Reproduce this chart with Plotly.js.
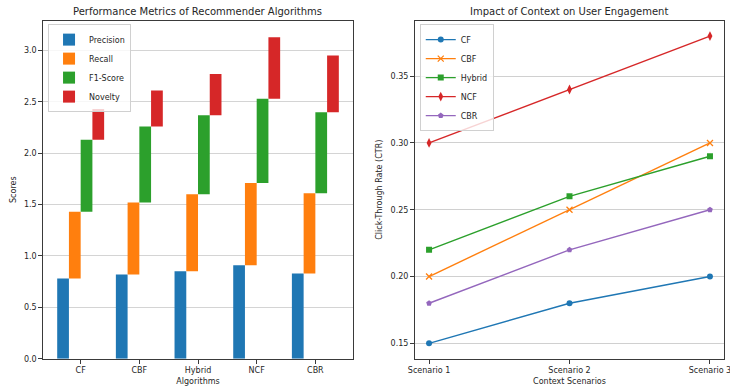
<!DOCTYPE html>
<html>
<head>
<meta charset="utf-8">
<script src="https://cdn.plot.ly/plotly-3.0.1.min.js"></script>
<style>
  html, body { margin: 0; padding: 0; background: #fff; }
  #chart { width: 730px; height: 389px; }
</style>
</head>
<body>
<div id="chart"></div>
<script>
// ---- Data (left chart) ----
const algorithms = ["CF", "CBF", "Hybrid", "NCF", "CBR"];
const precision = [0.78, 0.82, 0.85, 0.91, 0.83];
const recall    = [0.65, 0.70, 0.75, 0.80, 0.78];
const f1Score   = [0.70, 0.74, 0.77, 0.82, 0.79];
const novelty   = [0.30, 0.35, 0.40, 0.60, 0.55];

// ---- Data (right chart) ----
const scenarios = ["Scenario 1", "Scenario 2", "Scenario 3"];
const ctrCF     = [0.15, 0.18, 0.20];
const ctrCBF    = [0.20, 0.25, 0.30];
const ctrHybrid = [0.22, 0.26, 0.29];
const ctrNCF    = [0.30, 0.34, 0.38];
const ctrCBR    = [0.18, 0.22, 0.25];

const C = ["#1f77b4", "#ff7f0e", "#2ca02c", "#d62728", "#9467bd"];
const FONT = "DejaVu Sans, Liberation Sans, sans-serif";
const TXT = "#262626";

// cumulative bases
const baseRecall  = precision.slice();
const baseF1      = precision.map((v, i) => v + recall[i]);
const baseNovelty = baseF1.map((v, i) => v + f1Score[i]);
const base0       = precision.map(() => 0);

function barTrace(name, y, base, color) {
  return {
    type: "bar", name: name, x: algorithms, y: y, base: base,
    xaxis: "x", yaxis: "y", legend: "legend",
    marker: { color: color, line: { width: 0 } },
    hoverinfo: "x+y+name"
  };
}

const traces = [
  barTrace("Precision", precision, base0, C[0]),
  barTrace("Recall", recall, baseRecall, C[1]),
  barTrace("F1-Score", f1Score, baseF1, C[2]),
  barTrace("Novelty", novelty, baseNovelty, C[3])
];

const lineSeries = [
  ["CF", ctrCF, C[0], "circle", 6],
  ["CBF", ctrCBF, C[1], "x-thin-open", 6],
  ["Hybrid", ctrHybrid, C[2], "square", 6],
  ["NCF", ctrNCF, C[3], "diamond-tall", 7],
  ["CBR", ctrCBR, C[4], "pentagon", 6]
];
lineSeries.forEach(s => {
  traces.push({
    type: "scatter", mode: "lines+markers", name: s[0],
    x: scenarios, y: s[1], xaxis: "x2", yaxis: "y2", legend: "legend2",
    line: { color: s[2], width: 1.4 },
    marker: { color: s[2], symbol: s[3], size: s[4], line: { color: s[2], width: s[3] === "x-thin-open" ? 1.3 : 0 } }
  });
});

const axisCommon = {
  showline: true, linecolor: "#3a3a3a", linewidth: 1, mirror: true,
  ticks: "outside", ticklen: 4, tickwidth: 1, tickcolor: "#3a3a3a",
  tickfont: { family: FONT, size: 8, color: TXT },
  zeroline: false
};

const layout = {
  width: 730, height: 389,
  margin: { l: 0, r: 0, t: 0, b: 0 },
  paper_bgcolor: "#fff", plot_bgcolor: "#fff",
  barmode: "group", bargap: 0.2, bargroupgap: 0,
  font: { family: FONT, size: 8, color: TXT },
  showlegend: true,
  xaxis: Object.assign({}, axisCommon, {
    domain: [0.0593, 0.4832], anchor: "y", type: "category",
    range: [-0.637, 4.637], showgrid: false,
    title: { text: "Algorithms", font: { family: FONT, size: 8, color: TXT }, standoff: 4 }
  }),
  yaxis: Object.assign({}, axisCommon, {
    domain: [0.0779, 0.9468], anchor: "x",
    range: [0, 3.29], dtick: 0.5, tick0: 0, tickformat: ".1f",
    showgrid: true, gridcolor: "rgba(176,176,176,0.55)", gridwidth: 1,
    layer: "above traces",
    title: { text: "Scores", font: { family: FONT, size: 8, color: TXT }, standoff: 6 }
  }),
  xaxis2: Object.assign({}, axisCommon, {
    domain: [0.5685, 0.9918], anchor: "y2", type: "category",
    range: [-0.1, 2.1], showgrid: false,
    title: { text: "Context Scenarios", font: { family: FONT, size: 8, color: TXT }, standoff: 4 }
  }),
  yaxis2: Object.assign({}, axisCommon, {
    domain: [0.0779, 0.9468], anchor: "x2",
    range: [0.1385, 0.3915], tick0: 0.15, dtick: 0.05, tickformat: ".2f",
    showgrid: true, gridcolor: "rgba(176,176,176,0.6)", gridwidth: 1,
    title: { text: "Click-Through Rate (CTR)", font: { family: FONT, size: 8, color: TXT }, standoff: 6 }
  }),
  legend: {
    x: 0.0658, y: 0.938, xanchor: "left", yanchor: "top",
    bgcolor: "rgba(255,255,255,0.8)", bordercolor: "#d0d0d0", borderwidth: 1,
    font: { family: FONT, size: 8, color: TXT },
    tracegroupgap: 0, itemwidth: 30
  },
  legend2: {
    x: 0.575, y: 0.938, xanchor: "left", yanchor: "top",
    bgcolor: "rgba(255,255,255,0.8)", bordercolor: "#d0d0d0", borderwidth: 1,
    font: { family: FONT, size: 8, color: TXT },
    tracegroupgap: 0, itemwidth: 30
  },
  annotations: [
    { text: "Performance Metrics of Recommender Algorithms", xref: "paper", yref: "paper",
      x: 0.2712, y: 0.970, xanchor: "center", yanchor: "middle", showarrow: false,
      font: { family: FONT, size: 10, color: TXT } },
    { text: "Impact of Context on User Engagement", xref: "paper", yref: "paper",
      x: 0.780, y: 0.970, xanchor: "center", yanchor: "middle", showarrow: false,
      font: { family: FONT, size: 10, color: TXT } }
  ]
};

Plotly.newPlot("chart", traces, layout, { displayModeBar: false, staticPlot: true });
</script>
</body>
</html>
